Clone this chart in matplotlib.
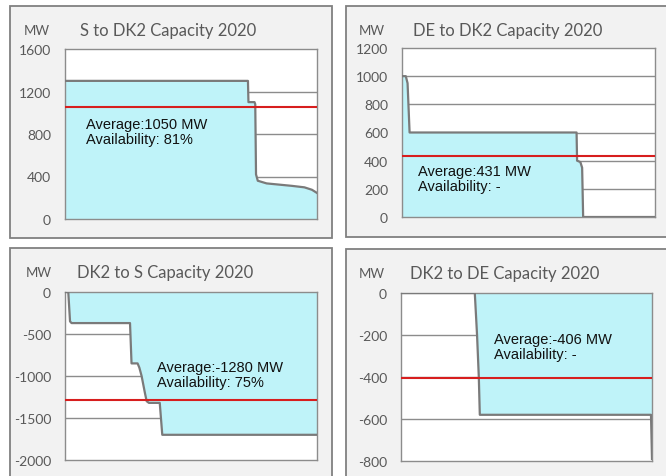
import matplotlib.pyplot as plt
from matplotlib.patches import Rectangle

plt.rcParams['axes.unicode_minus'] = False

# duration curves: x = share of the year (0..1), y = capacity in MW
s_dk2_x = [0, 0.726, 0.728, 0.752, 0.755, 0.758, 0.765, 0.80, 0.90, 0.95, 0.98, 1.0]
s_dk2_y = [1300, 1300, 1100, 1100, 1080, 420, 360, 335, 312, 298, 275, 245]

de_dk2_x = [0, 0.015, 0.022, 0.030, 0.690, 0.692, 0.705, 0.712, 0.716, 1.0]
de_dk2_y = [1000, 1000, 950, 600, 600, 400, 390, 350, 0, 0]

dk2_s_x = [0, 0.013, 0.020, 0.026, 0.258, 0.264, 0.288, 0.295, 0.304, 0.317, 0.324,
           0.333, 0.376, 0.386, 1.0]
dk2_s_y = [0, 0, -350, -370, -370, -850, -850, -900, -1000, -1200, -1300,
           -1320, -1320, -1700, -1700]

dk2_de_x = [0, 0.294, 0.303, 0.310, 0.314, 0.996, 1.0]
dk2_de_y = [0, 0, -200, -400, -580, -580, -790]

titles = ['S to DK2 Capacity 2020', 'DE to DK2 Capacity 2020',
          'DK2 to S Capacity 2020', 'DK2 to DE Capacity 2020']
averages = [1050, 431, -1280, -406]
avail = ['81%', '-', '75%', '-']
ylims = [(0, 1600), (0, 1200), (-2000, 0), (-800, 0)]
yticks = [[0, 400, 800, 1200, 1600], [0, 200, 400, 600, 800, 1000, 1200],
          [-2000, -1500, -1000, -500, 0], [-800, -600, -400, -200, 0]]
text_pos = [(0.083, 960), (0.063, 376), (0.365, -810), (0.37, -186)]

W, H = 666, 477
fig = plt.figure(figsize=(W / 100, H / 100), dpi=100)
fig.patch.set_facecolor('white')


def fx(px):
    return px / W


def fy(py):
    return 1 - py / H


# pixel layout: frame box, axes box, "MW" centre, title left
frames = [(10, 7, 332, 239), (346, 7, 672, 238), (10, 249, 332, 482), (346, 250, 672, 482)]
boxes = [(65, 50, 317, 220), (402, 49, 655, 218), (65, 293, 317, 461), (401, 294, 652, 462)]
mw_pos = [(37, 31), (372, 31), (39, 273), (372, 274)]
title_x = [80, 413, 77, 410]

curves = [(s_dk2_x, s_dk2_y), (de_dk2_x, de_dk2_y), (dk2_s_x, dk2_s_y), (dk2_de_x, dk2_de_y)]

grey_txt = '#595959'
for i in range(4):
    x0, y0, x1, y1 = frames[i]
    fig.patches.append(Rectangle((fx(x0), fy(y1)), fx(x1) - fx(x0), fy(y0) - fy(y1),
                                 transform=fig.transFigure, facecolor='#f2f2f2',
                                 edgecolor='#808080', linewidth=1.3, zorder=-5))
    l, t, r, b = boxes[i]
    ax = fig.add_axes([fx(l), fy(b), fx(r) - fx(l), fy(t) - fy(b)], zorder=2)
    ax.set_facecolor('white')
    x, y = curves[i]
    lo, hi = ylims[i]
    for v in yticks[i][1:-1]:
        ax.axhline(v, color='#8c8c8c', linewidth=1, zorder=1)
    ax.fill_between(x, y, 0, color='#bff3f9', linewidth=0, zorder=2)
    ax.plot(x, y, color='#7a7a7a', linewidth=1.6, zorder=3)
    ax.axhline(averages[i], color='#d71e1e', linewidth=1.5, zorder=4)
    tx, ty = text_pos[i]
    ax.text(tx, ty, 'Average:%d MW\nAvailability: %s' % (averages[i], avail[i]),
            fontsize=10.5, family='Liberation Sans', color='#111111', va='top', ha='left',
            linespacing=1.1, zorder=5)
    ax.set_xlim(0, 1)
    ax.set_ylim(lo, hi)
    ax.set_xticks([])
    ax.set_yticks(yticks[i])
    ax.set_yticklabels([str(v) for v in yticks[i]], family='Lato')
    ax.tick_params(axis='y', length=0, pad=10, labelsize=10, labelcolor=grey_txt)
    for s in ax.spines.values():
        s.set_color('#8c8c8c')
        s.set_linewidth(1)
    mx, my = mw_pos[i]
    fig.text(fx(mx), fy(my), 'MW', fontsize=9.5, family='Lato', color=grey_txt,
             ha='center', va='center', zorder=3)
    fig.text(fx(title_x[i]), fy(my), titles[i], fontsize=12, family='Lato',
             color=grey_txt, ha='left', va='center', zorder=3)

fig.savefig('out.png', dpi=100)
